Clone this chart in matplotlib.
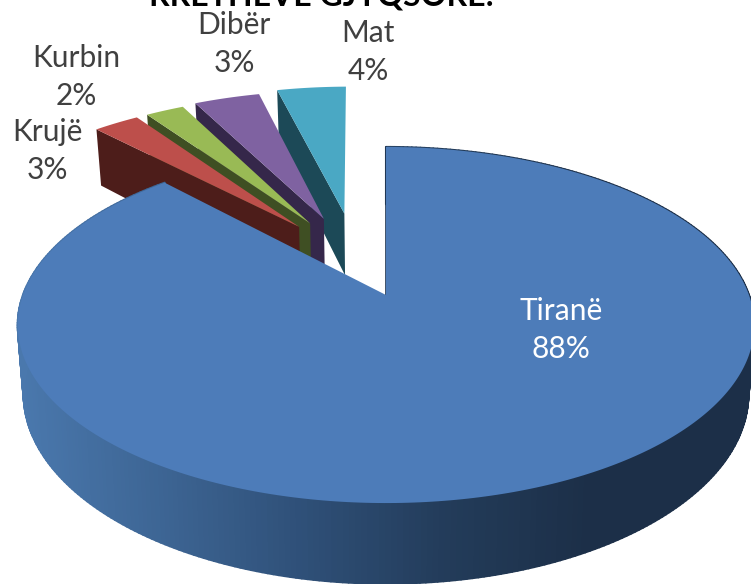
import numpy as np
import matplotlib
matplotlib.use('Agg')
import matplotlib.pyplot as plt
from matplotlib.collections import PolyCollection
from matplotlib.colors import LinearSegmentedColormap
from matplotlib.patches import Polygon

categories = ['Tiranë', 'Krujë', 'Kurbin', 'Dibër', 'Mat']
shares = [88, 3, 2, 3, 4]
# unrounded sizes of the slices, estimated from their angles
slice_sizes = [88.0, 2.5, 2.1, 3.6, 3.8]
explode = [0.23, 0.27, 0.27, 0.28, 0.30]
top_colors = ['#4d7cb9', '#bd4f4b', '#99ba55', '#7f62a1', '#4aa8c4']
wall_colors = ['#2f5480', '#4d1d1a', '#3f4f23', '#35274a', '#1c4957']
title = 'RRETHEVE GJYQSORE:'

plt.rcParams['font.family'] = ['Lato', 'DejaVu Sans']

# projection of the pie plane, fitted on the picture
x0, y0 = 386, 295
scale_x, scale_y = 363, 173
persp = 0.1685
depth = 67
shrink = 0.984
# the small slices sit a little further round than Tiranë
small_turn = -0.8


def project(x, y, bottom=False):
    den = 1 + persp * y
    sx = scale_x * x / den
    if bottom:
        return x0 + shrink * sx, y0 - (scale_y * y - depth) / den
    return x0 + sx, y0 - scale_y * y / den


fig = plt.figure(figsize=(7.51, 5.84), dpi=100)
ax = fig.add_axes([0, 0, 1, 1])
ax.set_xlim(0, 751)
ax.set_ylim(584, 0)
ax.axis('off')

fractions = np.array(slice_sizes) / sum(slice_sizes)
ends = np.cumsum(fractions) * 360
starts = ends - fractions * 360
starts[1:] += small_turn
ends[1:] += small_turn

# true centre of the pie, from which every slice is moved out
mid = np.radians((starts[0] + ends[0]) / 2)
cx = -explode[0] * np.sin(mid)
cy = -explode[0] * np.cos(mid)

# back slices first, Tiranë goes on top of them
z = 1
for i in [4, 3, 2, 1, 0]:
    mid = np.radians((starts[i] + ends[i]) / 2)
    ox = cx + explode[i] * np.sin(mid)
    oy = cy + explode[i] * np.cos(mid)
    theta = np.radians(np.linspace(starts[i], ends[i], 400))
    rim_x = ox + np.sin(theta)
    rim_y = oy + np.cos(theta)
    tx, ty = project(np.r_[ox, rim_x], np.r_[oy, rim_y])

    if i == 0:
        # side shading goes from light on the left to dark on the right
        ux, uy = project(rim_x, rim_y)
        bx, by = project(rim_x, rim_y, bottom=True)
        quads = [[(ux[j], uy[j]), (ux[j + 1], uy[j + 1]), (bx[j + 1], by[j + 1]), (bx[j], by[j])]
                 for j in range(len(ux) - 1)]
        side = LinearSegmentedColormap.from_list('side', ['#4a78ad', '#3d6594', '#2f5078', '#233c5a', '#1c2f48'])
        shade = np.clip(((ux[:-1] + bx[:-1]) / 2 - 20) / 570, 0, 1)
        rgba = side(shade)
        ax.add_collection(PolyCollection(quads, facecolors=rgba, edgecolors=rgba, linewidths=1.5, zorder=z))
        # thin dark edge on the straight cut at twelve o'clock
        lx, ly = project(np.array([ox, rim_x[0]]), np.array([oy, rim_y[0]]))
        ax.plot(lx - 0.5, ly, color='#1f3550', lw=1.2, zorder=z)
    else:
        # the wall below the left straight edge
        edge_x = np.array([ox, rim_x[0]])
        edge_y = np.array([oy, rim_y[0]])
        ux, uy = project(edge_x, edge_y)
        bx, by = project(edge_x, edge_y, bottom=True)
        ax.add_patch(Polygon(np.c_[np.r_[ux, bx[::-1]], np.r_[uy, by[::-1]]], closed=True,
                             fc=wall_colors[i], ec='none', zorder=z))
    ax.add_patch(Polygon(np.c_[tx, ty], closed=True, fc=top_colors[i], ec='none', zorder=z + 0.5))
    z += 1

label_pos = {'Tiranë': (561, 330), 'Krujë': (47, 151), 'Kurbin': (76, 77), 'Dibër': (234, 44), 'Mat': (368, 52)}
for name, share in zip(categories, shares):
    lx, ly = label_pos[name]
    ax.text(lx, ly, '{}\n{}%'.format(name, share), ha='center', va='center', fontsize=21.5,
            color='white' if name == 'Tiranë' else '#404040', linespacing=1.4, zorder=10)

ax.text(321, 6, title, ha='center', va='baseline', fontsize=23, fontweight='bold', color='black', zorder=10)

plt.savefig('out.png', dpi=100)
